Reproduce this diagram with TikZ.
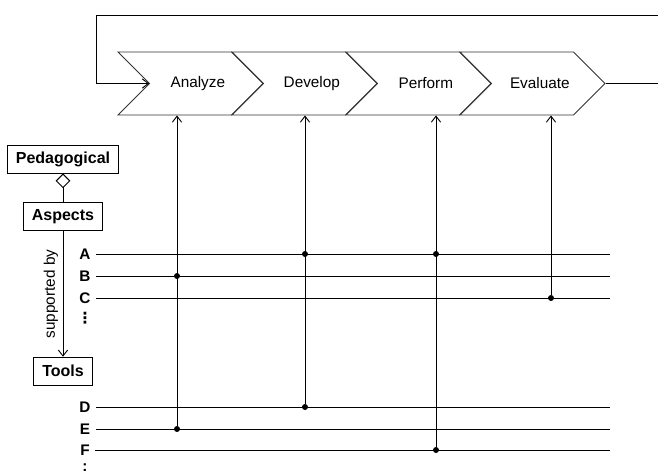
\documentclass[tikz,border=0pt]{standalone}
\usepackage{fontspec}
\setmainfont{Liberation Sans}
\newfontfamily\symfont{DejaVu Sans}
\usetikzlibrary{shapes.symbols,arrows.meta,positioning}

\begin{document}
\begin{tikzpicture}[%
  x=0.75pt,y=-0.75pt,line width=0.7pt,
  phase/.style={draw=black!80,signal,signal from=west,signal to=east,
    signal pointer angle=90,minimum width=108.75pt,minimum height=47.25pt,
    inner sep=0pt,font=\fontsize{11.5}{14}\selectfont,
    execute at begin node=\hspace*{11pt}},
  box/.style={draw=black,font=\bfseries\fontsize{12}{14}\selectfont,
    minimum height=21pt,inner xsep=6.5pt,inner ysep=0pt},
  lbl/.style={font=\bfseries\fontsize{11.5}{14}\selectfont,inner xsep=4pt,inner ysep=0pt},
  dot/.style={circle,fill=black,inner sep=0pt,minimum size=4.5pt},
  arr/.style={-{Straight Barb[length=4.5pt,width=7pt]}}
]
  \useasboundingbox (0,0) rectangle (658,475);
  \clip (0,0) rectangle (658,475);

  % process chevrons
  \node [phase] (an) at (190.5,83.5) {Analyze};
  \node [phase] (de) at (304.5,83.5) {Develop};
  \node [phase] (pe) at (418.5,83.5) {Perform};
  \node [phase] (ev) at (532.5,83.5) {Evaluate};

  % feedback loop
  \coordinate (loopR) at (700,15);
  \coordinate (loopL) at (96,15);
  \coordinate (notch) at ([xshift=-31.1pt]an.center);
  \draw [arr] (ev.east) -| (loopR) -- (loopL) |- (notch);

  % aspects and tools
  \node [box] (ped) at (63,159) {Pedagogical};
  \node [box, below=21.75pt of ped] (asp) {Aspects};
  \node [box, below=94pt of asp] (tool) {Tools};
  \draw [{Diamond[open,length=11pt,width=11pt]}-] (ped.south) -- (asp.north);
  \draw [arr] (asp.south) -- node [rotate=90,above,font=\fontsize{11.5}{14}\selectfont] {supported by} (tool.north);

  % rows
  \coordinate (rend) at (610,0);
  \foreach \n/\y in {A/254,B/276,C/298,D/407,E/429,F/450}{
    \node [lbl] (\n) at (85,\y) {\n};
    \draw (\n.east) -- (\n.east -| rend);
  }
  \node [lbl] (more1) at (85,318) {\symfont ⋮};
  \node [lbl] (more2) at (85,468) {:};

  % links between phases and rows
  \node [dot] (dB) at (177,276) {};
  \node [dot] (dE) at (177,429) {};
  \node [dot] (dA1) at (305,254) {};
  \node [dot] (dD) at (305,407) {};
  \node [dot] (dA2) at (436,254) {};
  \node [dot] (dF) at (436,450) {};
  \node [dot] (dC) at (551,298) {};
  \draw [arr] (dE) -- (dE |- an.south);
  \draw [arr] (dD) -- (dD |- de.south);
  \draw [arr] (dF) -- (dF |- pe.south);
  \draw [arr] (dC) -- (dC |- ev.south);
\end{tikzpicture}
\end{document}
